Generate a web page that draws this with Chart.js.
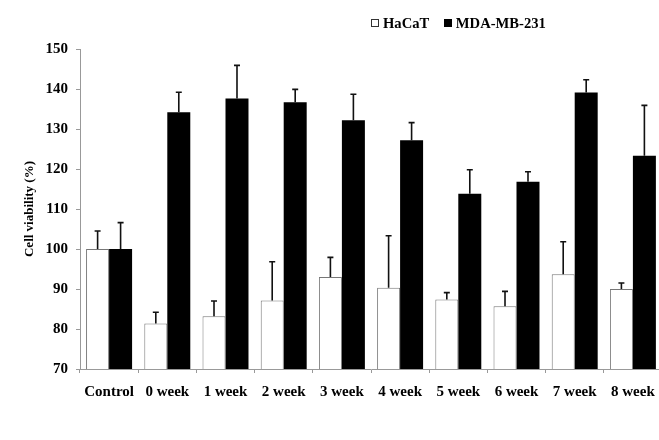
<!DOCTYPE html>
<html>
<head>
<meta charset="utf-8">
<script src="https://cdn.jsdelivr.net/npm/chart.js@4/dist/chart.umd.min.js"></script>
<style>
  html, body { margin: 0; padding: 0; background: #fff; overflow: hidden; }
  #wrap { position: relative; width: 659px; height: 440px; overflow: hidden; }
  #box { position: absolute; left: 0; top: 0; width: 680px; height: 440px; }
  #legend { position: absolute; top: 15px; left: 371px; font: bold 14.6px "Liberation Serif", "Times New Roman", serif; color: #000; white-space: nowrap; }
  #legend span.sw { display: inline-block; width: 8px; height: 8px; box-sizing: border-box; margin-right: 4px; vertical-align: 1px; }
</style>
</head>
<body>
<div id="wrap">
  <div id="box"><canvas id="c" width="680" height="440"></canvas></div>
  <div id="legend"><span class="sw" style="border:1px solid #333;background:#fff"></span>HaCaT&nbsp;&nbsp;&nbsp;&nbsp;<span class="sw" style="background:#000"></span>MDA-MB-231</div>
</div>
<script>
const categories = ["Control", "0 week", "1 week", "2 week", "3 week", "4 week", "5 week", "6 week", "7 week", "8 week"];
const hacatValues = [100, 81.4, 83.2, 87.1, 93.0, 90.3, 87.4, 85.7, 93.7, 90.0];
const hacatErrors = [4.5, 2.8, 3.8, 9.7, 4.9, 13.0, 1.7, 3.7, 8.1, 1.5];
const mdaValues = [100, 134.2, 137.6, 136.7, 132.2, 127.2, 113.8, 116.8, 139.1, 123.3];
const mdaErrors = [6.6, 5.0, 8.3, 3.2, 6.5, 4.4, 6.0, 2.5, 3.2, 12.6];
const yTicks = [70, 80, 90, 100, 110, 120, 130, 140, 150];

const serif = '"Liberation Serif", "Times New Roman", serif';

const errorBars = {
  id: 'errorBars',
  afterDatasetsDraw(chart) {
    const ctx = chart.ctx;
    const ys = chart.scales.y;
    const errs = [hacatErrors, mdaErrors];
    ctx.save();
    ctx.strokeStyle = '#111';
    ctx.lineWidth = 1.6;
    chart.data.datasets.forEach((ds, di) => {
      const meta = chart.getDatasetMeta(di);
      meta.data.forEach((el, i) => {
        const top = ys.getPixelForValue(ds.data[i] + errs[di][i]);
        ctx.beginPath();
        ctx.moveTo(el.x, el.y);
        ctx.lineTo(el.x, top);
        ctx.moveTo(el.x - 3, top);
        ctx.lineTo(el.x + 3, top);
        ctx.stroke();
      });
    });
    ctx.restore();
  }
};

function draw() {
  new Chart(document.getElementById('c'), {
    type: 'bar',
    data: {
      labels: categories,
      datasets: [
        { label: 'HaCaT', data: hacatValues, backgroundColor: '#fff', borderColor: '#777', borderWidth: 1,
          categoryPercentage: 0.79, barPercentage: 1.0 },
        { label: 'MDA-MB-231', data: mdaValues, backgroundColor: '#000', borderColor: '#000', borderWidth: 0,
          categoryPercentage: 0.79, barPercentage: 1.0 }
      ]
    },
    options: {
      responsive: false,
      animation: false,
      devicePixelRatio: 1,
      layout: { padding: { left: 0, right: 18, top: 49, bottom: 0 } },
      plugins: { legend: { display: false }, tooltip: { enabled: false } },
      scales: {
        x: {
          grid: { display: true, drawOnChartArea: false, drawTicks: true, tickLength: 4, color: '#999', offset: true },
          border: { display: true, color: '#999', width: 1 },
          ticks: { color: '#000', font: { family: serif, size: 15, weight: 'bold' }, padding: 10, maxRotation: 0, autoSkip: false },
          afterFit(scale) { scale.height = 71; }
        },
        y: {
          min: 70, max: 150,
          afterBuildTicks(scale) { scale.ticks = yTicks.map(v => ({ value: v })); },
          grid: { display: true, drawOnChartArea: false, drawTicks: true, tickLength: 4, color: '#999' },
          border: { display: true, color: '#999', width: 1 },
          ticks: { color: '#000', font: { family: serif, size: 15, weight: 'bold' }, padding: 8 },
          title: { display: true, text: 'Cell viability (%)', color: '#000', font: { family: serif, size: 13, weight: 'bold' }, padding: { top: 22, bottom: 0 } },
          afterFit(scale) { scale.width = 80; }
        }
      }
    },
    plugins: [errorBars]
  });
}

Promise.all([
  document.fonts.load('bold 13px "Liberation Serif"'),
  document.fonts.load('bold 15px "Liberation Serif"')
]).then(draw, draw);
</script>
</body>
</html>
